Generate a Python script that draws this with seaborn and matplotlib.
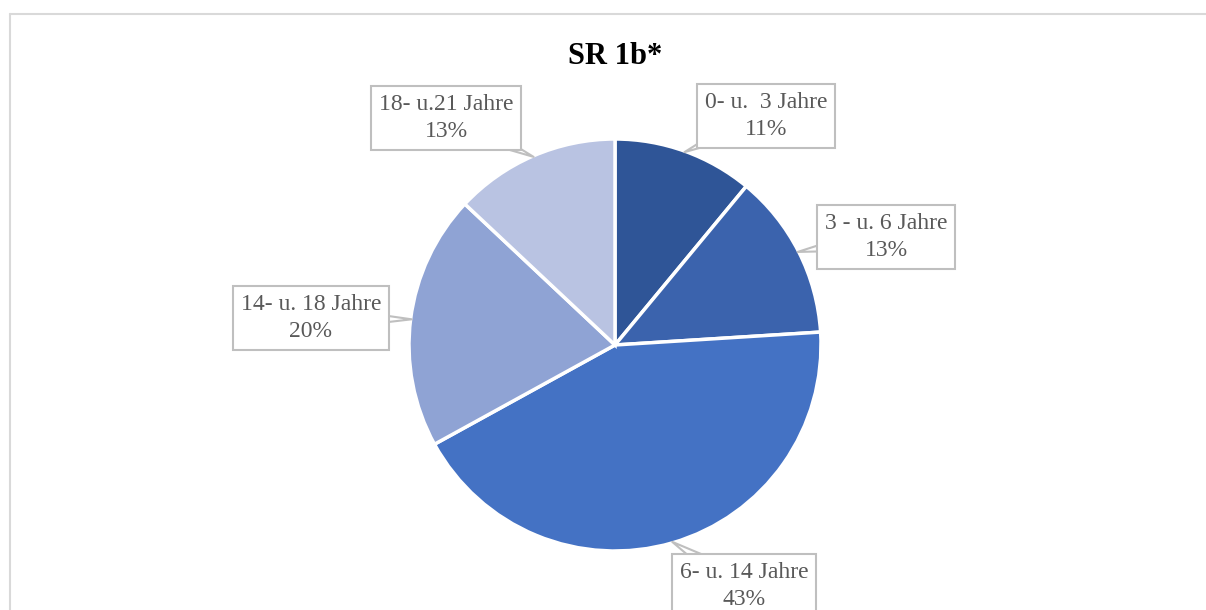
import numpy as np
import matplotlib
matplotlib.use("Agg")
import matplotlib.pyplot as plt
from matplotlib.lines import Line2D
import seaborn as sns

# Age groups and their shares (%)
categories = ["0- u.  3 Jahre", "3 - u. 6 Jahre", "6- u. 14 Jahre", "14- u. 18 Jahre", "18- u.21 Jahre"]
shares = [11, 13, 43, 20, 13]
colors = ["#2F5597", "#3B63AD", "#4472C4", "#8FA3D4", "#B9C3E2"]
title = "SR 1b*"

# Label box centres in figure pixels
label_pos = [(766, 494), (886, 373), (744, 24), (311, 292), (446, 492)]

sns.set_theme(style="white")
plt.rcParams["font.family"] = ["Liberation Serif", "DejaVu Serif"]

W, H = 1206, 610
fig = plt.figure(figsize=(W / 100, H / 100), dpi=100)
fig.patch.set_facecolor("white")

# Chart frame (top and left edges visible)
fig.add_artist(Line2D([9.5 / W, 9.5 / W], [0, 1 - 13.5 / H], transform=fig.transFigure,
                      color="#D9D9D9", lw=1.5))
fig.add_artist(Line2D([9.5 / W, 1], [1 - 13.5 / H, 1 - 13.5 / H], transform=fig.transFigure,
                      color="#D9D9D9", lw=1.5))

cx, cy, r = 615, H - 345, 206
ax = fig.add_axes([(cx - r) / W, (cy - r) / H, 2 * r / W, 2 * r / H])
wedges, _ = ax.pie(shares, colors=colors, startangle=90, counterclock=False,
                   radius=1.0, wedgeprops=dict(edgecolor="white", linewidth=2.5))
ax.set_xlim(-1, 1)
ax.set_ylim(-1, 1)
ax.set_aspect("equal")
ax.axis("off")

for w, cat, val, pos in zip(wedges, categories, shares, label_pos):
    mid = np.deg2rad((w.theta1 + w.theta2) / 2)
    tip = (0.995 * np.cos(mid), 0.995 * np.sin(mid))
    ax.annotate(f"{cat}\n{val}%", xy=tip, xycoords="data",
                xytext=pos, textcoords="figure pixels",
                ha="center", va="center", fontsize=17, color="#595959",
                linespacing=1.4, annotation_clip=False,
                bbox=dict(boxstyle="square,pad=0.32", fc="white", ec="#BFBFBF", lw=1.5),
                arrowprops=dict(arrowstyle="wedge,tail_width=1.1,shrink_factor=0.5",
                                fc="white", ec="#BFBFBF", lw=1.5,
                                patchA=None, shrinkA=0, shrinkB=0))

fig.text(615 / W, 1 - 56 / H, title, ha="center", va="center",
         fontsize=22, fontweight="bold", color="black")

fig.savefig("out.png", dpi=100, facecolor="white")
